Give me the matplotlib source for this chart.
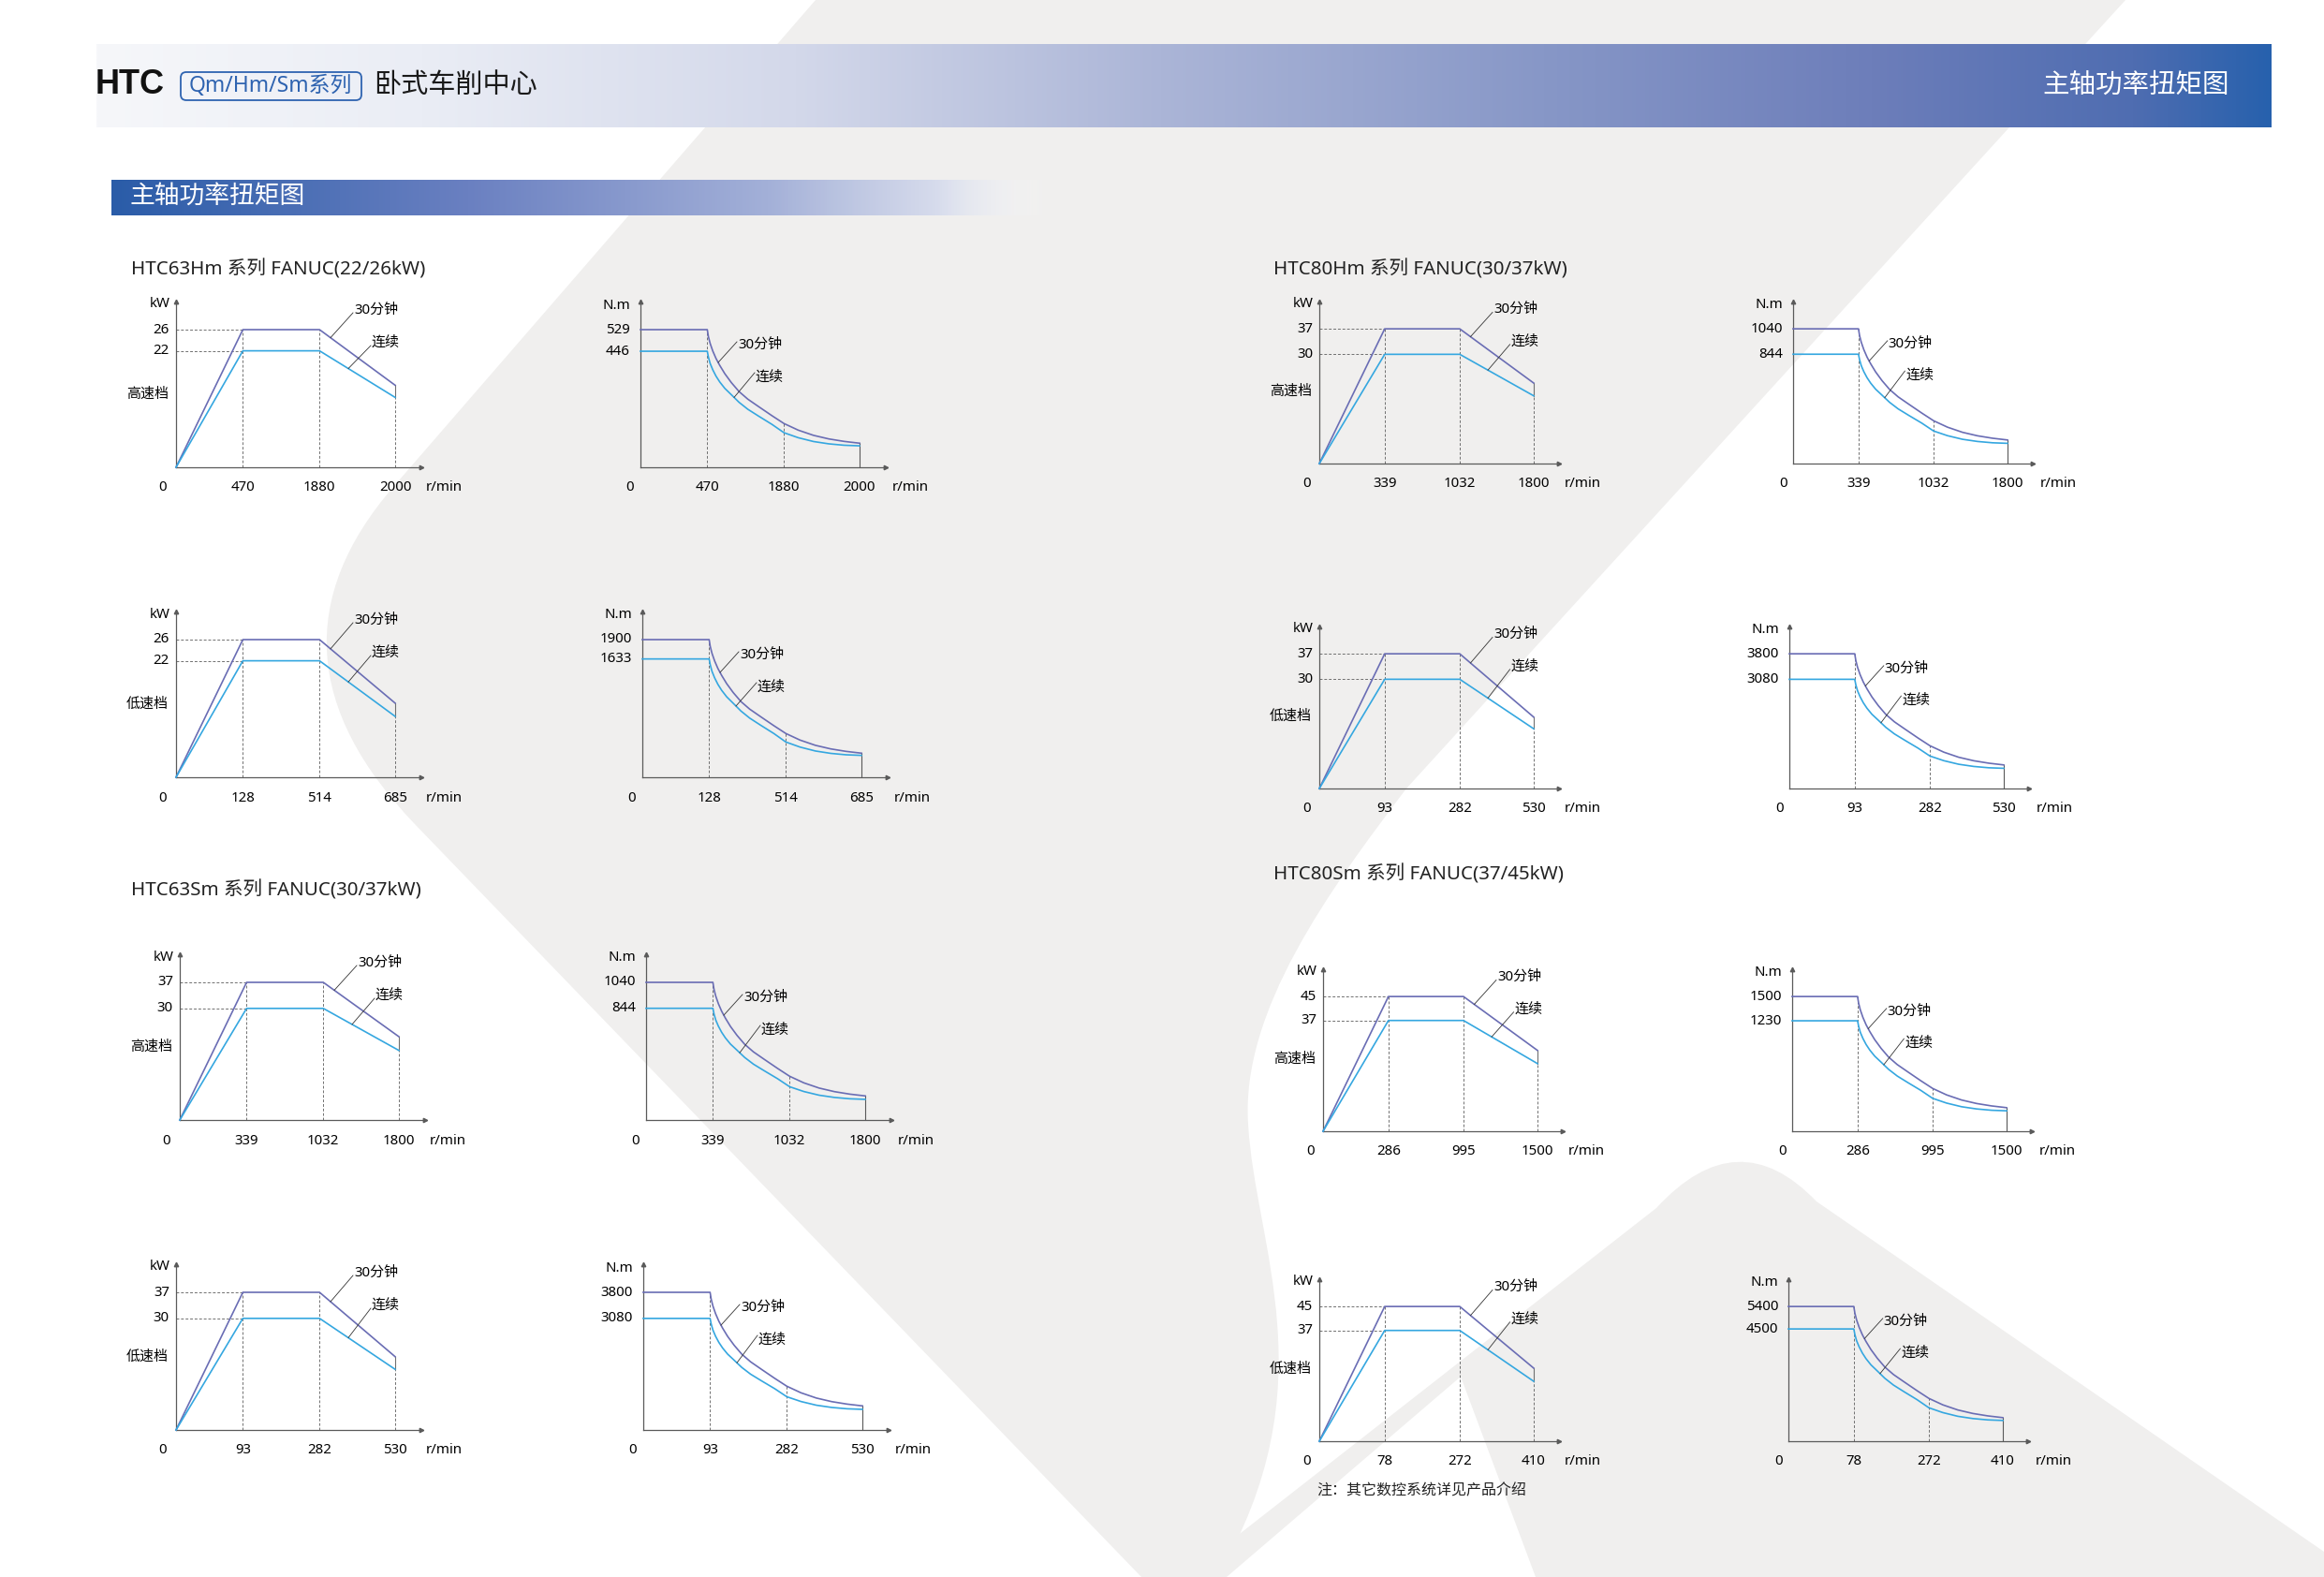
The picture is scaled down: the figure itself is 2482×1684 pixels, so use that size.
import numpy as np
import matplotlib.pyplot as plt
from matplotlib.path import Path
from matplotlib.patches import PathPatch, FancyBboxPatch
from matplotlib.colors import to_rgb

plt.rcParams['font.family'] = ['Noto Sans', 'Noto Sans CJK SC', 'DejaVu Sans']

W, H = 2482, 1684

# ---- values ----
series_titles = ['HTC63Hm 系列 FANUC(22/26kW)', 'HTC63Sm 系列 FANUC(30/37kW)',
                 'HTC80Hm 系列 FANUC(30/37kW)', 'HTC80Sm 系列 FANUC(37/45kW)']
gear_names = ['高速档', '低速档', '高速档', '低速档', '高速档', '低速档', '高速档', '低速档']
speed_labels = [[0, 470, 1880, 2000], [0, 128, 514, 685], [0, 339, 1032, 1800], [0, 93, 282, 530],
                [0, 339, 1032, 1800], [0, 93, 282, 530], [0, 286, 995, 1500], [0, 78, 272, 410]]
power_30min = [26, 26, 37, 37, 37, 37, 45, 45]
power_cont = [22, 22, 30, 30, 30, 30, 37, 37]
power_30min_end = [15.5, 14.0, 22.4, 19.7, 22.1, 19.6, 27.0, 24.4]
power_cont_end = [13.2, 11.5, 18.7, 16.3, 18.6, 16.4, 22.6, 20.0]
torque_30min = [529, 1900, 1040, 3800, 1040, 3800, 1500, 5400]
torque_cont = [446, 1633, 844, 3080, 844, 3080, 1230, 4500]
# fall-off of torque above base speed, as share of the flat value (same drawing on every chart)
torque_fall_pos = [0.305, 0.310, 0.318, 0.330, 0.345, 0.362, 0.385, 0.415, 0.45,
                   0.49, 0.54, 0.60, 0.655, 0.72, 0.79, 0.86, 0.93, 1.0]
torque_fall_30min = [1.0, 0.95, 0.90, 0.845, 0.79, 0.74, 0.68, 0.615, 0.55,
                     0.495, 0.44, 0.375, 0.318, 0.27, 0.232, 0.206, 0.188, 0.175]
torque_fall_cont = [1.0, 0.95, 0.895, 0.84, 0.785, 0.735, 0.68, 0.625, 0.56,
                    0.50, 0.44, 0.37, 0.298, 0.255, 0.222, 0.202, 0.19, 0.185]
note_text = '注：其它数控系统详见产品介绍'

# ---- layout (page pixels) ----
knots = [0, 0.305, 0.655, 1.0]
power_origin = [(188, 499), (188, 830), (192, 1196), (188, 1527),
                (1409, 495), (1409, 842), (1413, 1208), (1409, 1539)]
torque_origin = [(684, 499), (686, 830), (690, 1196), (687, 1527),
                 (1915, 495), (1911, 842), (1914, 1208), (1910, 1539)]
title_pos = [(140, 288), (140, 951), (1360, 288), (1360, 934)]

C30 = '#6a6db4'
CC = '#35a7e0'
AXC = '#5a5a5a'
DASH = '#707070'
BG_GREY = '#f0efee'
FS = 10.8

fig = plt.figure(figsize=(W / 100, H / 100), dpi=100)
bg = fig.add_axes([0, 0, 1, 1])
bg.set_xlim(0, W)
bg.set_ylim(H, 0)
bg.axis('off')

# background logo shapes
M, L, C3, C4, Z = Path.MOVETO, Path.LINETO, Path.CURVE3, Path.CURVE4, Path.CLOSEPOLY
g1 = Path([(871, 0), (2270, 0), (1502, 842),
           (1420, 950), (1325, 1080), (1333, 1200),
           (1340, 1330), (1420, 1480), (1300, 1684),
           (1219, 1684), (443, 880),
           (267, 697), (420, 520), (871, 0)],
          [M, L, L, C4, C4, C4, C4, C4, C4, L, L, C3, C3, Z])
bg.add_patch(PathPatch(g1, fc=BG_GREY, ec='none', zorder=0))
g2 = Path([(1265, 1684), (1769, 1290), (1856, 1195), (1940, 1283),
           (2482, 1657), (2482, 1684), (1265, 1684)],
          [M, L, C3, C3, L, L, Z])
bg.add_patch(PathPatch(g2, fc=BG_GREY, ec='none', zorder=0))
gap = Path([(1310, 1684), (1560, 1470), (1640, 1684), (1310, 1684)], [M, L, L, Z])
bg.add_patch(PathPatch(gap, fc='white', ec='none', zorder=0.5))


def gradient(x0, x1, y0, y1, stops, z):
    xs = np.linspace(x0, x1, 600)
    px = [s[0] for s in stops]
    rgba = np.zeros((1, len(xs), 4))
    for c in range(3):
        rgba[0, :, c] = np.interp(xs, px, [to_rgb(s[1])[c] for s in stops])
    rgba[0, :, 3] = np.interp(xs, px, [s[2] for s in stops])
    bg.imshow(rgba, extent=(x0, x1, y1, y0), aspect='auto', zorder=z, interpolation='bilinear')


# header band
gradient(103, 2426, 47, 136,
         [(103, '#f6f7fa', 1), (450, '#eaedf5', 1), (850, '#d3d8ea', 1), (1240, '#abb5d7', 1),
          (1650, '#8797c7', 1), (2000, '#6d7eba', 1), (2280, '#4f6db1', 1), (2426, '#2761ad', 1)], 2)
# section bar
gradient(119, 1123, 192, 230,
         [(119, '#2a5ca8', 1), (500, '#6a80c1', 1), (820, '#a3b0d8', 1), (1000, '#d3d9ec', 0.9),
          (1123, '#ffffff', 0)], 2)
bg.set_xlim(0, W)
bg.set_ylim(H, 0)

bg.text(102, 90, 'HTC', fontsize=26, fontweight='bold', family='Liberation Sans',
        ha='left', va='center', color='#111111', zorder=3)
bg.add_patch(FancyBboxPatch((193, 77), 193, 30, boxstyle='round,pad=0,rounding_size=6',
                            fc='none', ec='#2e63b0', lw=1.3, zorder=3))
bg.text(289, 92, 'Qm/Hm/Sm系列', fontsize=16.5, color='#2e63b0', ha='center', va='center', zorder=3)
bg.text(399, 91, '卧式车削中心', fontsize=21, color='#1a1a1a', ha='left', va='center', zorder=3)
bg.text(2381, 91, '主轴功率扭矩图', fontsize=20.5, color='white', ha='right', va='center', zorder=3)
bg.text(138, 210, '主轴功率扭矩图', fontsize=19.3, color='white', ha='left', va='center', zorder=3)

for t, (x, y) in zip(series_titles, title_pos):
    bg.text(x, y, t, fontsize=14.8, color='#222222', ha='left', va='center', zorder=3)
bg.text(1406, 1592, note_text, fontsize=11.5, color='#222222', ha='left', va='center', zorder=3)


def make_ax(ox, oy, unit, top):
    th = 147 * unit / 234
    ax = fig.add_axes([ox / W, 1 - oy / H, 1.12 * unit / W, 1.205 * th / H])
    ax.set_xlim(0, 1.12)
    ax.set_ylim(0, top * 1.205)
    ax.axis('off')
    ax.plot([0, 1.12], [0, 0], color=AXC, lw=0.9, clip_on=False, zorder=2)
    ax.plot([0, 0], [0, top * 1.205], color=AXC, lw=0.9, clip_on=False, zorder=2)
    ax.plot([1.12], [0], marker='>', ms=3.2, color=AXC, clip_on=False, zorder=2)
    ax.plot([0], [top * 1.205], marker='^', ms=3.2, color=AXC, clip_on=False, zorder=2)
    return ax


def dashed(ax, xs, ys):
    ax.plot(xs, ys, color=DASH, lw=0.7, ls=(0, (3, 2)), clip_on=False, zorder=1)


def leader(ax, p0, p1):
    ax.plot([p0[0], p1[0]], [p0[1], p1[1]], color='#333333', lw=0.6, clip_on=False, zorder=3)


def x_labels(ax, at, labels, zero_dx):
    y = at(0, 22)[1]
    ax.text(at(zero_dx, 0)[0], y, str(labels[0]), fontsize=FS, ha='center', va='center')
    for k, lab in zip(knots[1:], labels[1:]):
        ax.text(k, y, str(lab), fontsize=FS, ha='center', va='center')


def power_chart(i):
    ox, oy = power_origin[i]
    unit = 234 if i < 4 else 229
    p30, pc = power_30min[i], power_cont[i]
    e30, ec = power_30min_end[i], power_cont_end[i]
    ax = make_ax(ox, oy, unit, p30)

    def at(dx, dy):
        return dx / 234, -dy / 147 * p30

    y30 = [0, p30, p30, e30]
    yc = [0, pc, pc, ec]
    dashed(ax, [0, knots[1]], [p30, p30])
    dashed(ax, [0, knots[1]], [pc, pc])
    dashed(ax, [knots[1], knots[1]], [0, p30])
    dashed(ax, [knots[2], knots[2]], [0, p30])
    dashed(ax, [knots[3], knots[3]], [0, ec])
    ax.plot([knots[3], knots[3]], [ec, e30], color=DASH, lw=0.8, zorder=1)
    ax.plot(knots, y30, color=C30, lw=1.2, zorder=3, clip_on=False)
    ax.plot(knots, yc, color=CC, lw=1.2, zorder=3, clip_on=False)

    ax.text(*at(-6, -174), 'kW', fontsize=FS, ha='right', va='center')
    ax.text(at(-7, 0)[0], p30, str(p30), fontsize=FS, ha='right', va='center')
    ax.text(at(-7, 0)[0], pc, str(pc), fontsize=FS, ha='right', va='center')
    ax.text(*at(-8, -78), gear_names[i], fontsize=FS, ha='right', va='center')
    x_labels(ax, at, speed_labels[i], -14)
    ax.text(*at(267, 22), 'r/min', fontsize=FS, ha='left', va='center')

    xa = 165 / 234
    leader(ax, at(189, -165), (xa, np.interp(xa, knots, y30)))
    ax.text(*at(190, -168), '30分钟', fontsize=FS, ha='left', va='center')
    xb = 184 / 234
    leader(ax, at(208, -130), (xb, np.interp(xb, knots, yc)))
    ax.text(*at(209, -133), '连续', fontsize=FS, ha='left', va='center')


def torque_chart(i):
    ox, oy = torque_origin[i]
    unit = 234 if i < 4 else 229
    t30, tc = torque_30min[i], torque_cont[i]
    ax = make_ax(ox, oy, unit, t30)

    def at(dx, dy):
        return dx / 234, -dy / 147 * t30

    xs = [0] + torque_fall_pos
    y30 = [t30] + [t30 * f for f in torque_fall_30min]
    yc = [tc] + [tc * f for f in torque_fall_cont]
    dashed(ax, [knots[1], knots[1]], [0, t30])
    dashed(ax, [knots[2], knots[2]], [0, np.interp(knots[2], xs, y30)])
    ax.plot([knots[3], knots[3]], [0, y30[-1]], color=AXC, lw=0.8, zorder=1)
    ax.plot(xs, y30, color=C30, lw=1.2, zorder=3, clip_on=False)
    ax.plot(xs, yc, color=CC, lw=1.2, zorder=3, clip_on=False)

    ax.text(*at(-11, -173), 'N.m', fontsize=FS, ha='right', va='center')
    ax.text(at(-11, 0)[0], t30, str(t30), fontsize=FS, ha='right', va='center')
    ax.text(at(-11, 0)[0], tc, str(tc), fontsize=FS, ha='right', va='center')
    x_labels(ax, at, speed_labels[i], -11)
    ax.text(*at(269, 22), 'r/min', fontsize=FS, ha='left', va='center')

    xa = 83 / 234
    leader(ax, at(103, -134), (xa, np.interp(xa, xs, y30)))
    ax.text(*at(104, -131), '30分钟', fontsize=FS, ha='left', va='center')
    xb = 100 / 234
    leader(ax, at(122, -101), (xb, np.interp(xb, xs, yc)))
    ax.text(*at(123, -96), '连续', fontsize=FS, ha='left', va='center')


for i in range(8):
    power_chart(i)
    torque_chart(i)

fig.savefig('out.png', dpi=100)
